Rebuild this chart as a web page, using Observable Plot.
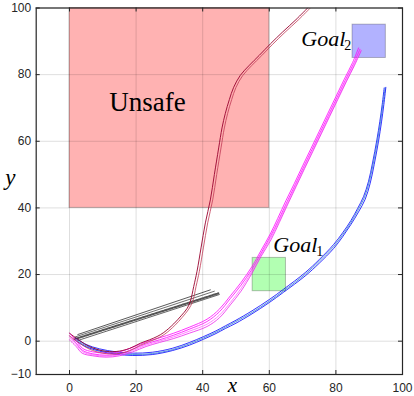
<!DOCTYPE html>
<html><head><meta charset="utf-8">
<script src="https://cdn.jsdelivr.net/npm/d3@7"></script>
<script src="https://cdn.jsdelivr.net/npm/@observablehq/plot@0.6"></script>
<style>body{margin:0;background:#fff}svg{display:block}</style>
</head><body><div id="chart"></div>
<script>
const xTicks = [0,20,40,60,80,100];
const yTicks = [-10,0,20,40,60,80,100];

const regionNames = ["Unsafe","Goal1","Goal2"];
const regionX1 = [0,55,85];
const regionX2 = [60,65,95];
const regionY1 = [40,15,85];
const regionY2 = [100,25,95];

const red1 = [[0,2.4],[3,0.2],[6,-1.6],[10,-2.9],[14,-3.1],[18,-2.2],[21.3,-0.6],[24,0.4],[26.3,1.4],[28.3,2.6],[31.3,5.2],[33.5,7.6],[35.3,9.8],[36.3,12],[37.3,16.4],[38.3,21],[39.5,28],[40.8,35.5],[42.3,42.4],[43.5,50],[44.8,58],[45.8,64],[46.8,68.4],[48,72.5],[49.3,76.2],[51.3,79.8],[54,82.8],[57,85.8],[60.3,89.2],[64,92.8],[68,96.5],[71.5,100]];
const red2 = [[0,1.6],[3,-0.6],[6,-2.4],[10,-3.6],[14,-3.8],[18,-2.9],[21.3,-1.2],[24,-0.1],[26.5,0.9],[28.6,2.1],[31.6,4.7],[33.8,7.1],[35.8,9.6],[37,12],[38,16.4],[39,21],[40.2,28],[41.5,35.5],[43,42.4],[44.2,50],[45.5,58],[46.5,64],[47.5,68.4],[48.7,72.5],[50,76.2],[52,79.7],[54.7,82.7],[57.7,85.7],[61,89.1],[64.7,92.7],[68.7,96.4],[72.2,99.9]];

const mag1 = [[0,2.4],[2,0.2],[4,-2.2],[7,-3.2],[11,-3.6],[15,-3.2],[19,-1.8],[23,-0.2],[27,1],[31.3,2.4],[36,4.2],[41.3,6.6],[45,9.6],[48.3,13.6],[51.5,17.6],[54.8,22.4],[57.5,27.2],[60.3,32.2],[62.5,36.8],[65,42.2],[67.5,47.3],[70,52.6],[72.5,57.8],[75,63],[77.5,68.2],[80,73.4],[82.5,78.6],[85,83.6],[86.8,88]];
const mag2 = [[0,1.6],[2,-0.6],[4,-2.8],[7,-3.8],[11,-4.2],[15,-3.8],[19,-2.4],[23,-0.8],[27,0.4],[31.3,1.8],[36,3.6],[41.3,5.9],[45,8.8],[48.3,12.8],[51.5,16.8],[54.8,21.6],[57.5,26.4],[60.3,31.4],[62.8,36.4],[65.3,41.8],[67.8,47],[70.3,52.3],[72.8,57.5],[75.3,62.7],[77.8,67.9],[80.3,73.1],[82.8,78.3],[85.3,83.3],[87.2,87.6]];
const mag3 = [[0,0.4],[2,-1.6],[3.8,-3.6],[7,-4.4],[11,-4.8],[15,-4.4],[19,-3.2],[23,-1.6],[27,-0.4],[31.3,0.8],[36,2.4],[41.3,4.4],[45,7],[48.3,10.9],[51.5,15],[54.8,20.4],[57.5,25.4],[60.5,30.4],[63,35.6],[65.6,41.2],[68.1,46.5],[70.6,51.8],[73.1,57],[75.6,62.2],[78.1,67.4],[80.6,72.6],[83.1,77.8],[85.6,82.8],[87.6,87.2]];
const mag4 = [[0,1],[2,-1],[4,-3.2],[7,-4.1],[11,-4.5],[15,-4.1],[19,-2.8],[23,-1.2],[27,0],[31.3,1.3],[36,3],[41.3,5.1],[45,7.8],[48.3,11.6],[51.5,15.8],[54.8,21],[57.5,25.9],[60.4,30.9],[62.9,36],[65.5,41.5],[68,46.8],[70.5,52],[73,57.2],[75.5,62.4],[78,67.6],[80.5,72.8],[83,78],[85.5,83],[87.4,87.4]];

const blue1 = [[1.8,1],[5,-1],[9,-2.3],[14,-3.2],[19,-3.6],[25,-3.3],[31,-2.1],[36,-0.4],[40.3,1.4],[44,3.1],[46.8,4.6],[50,6.3],[54.8,9.1],[60,12.5],[64.3,15.6],[70.8,20.6],[75,24.5],[79.3,29],[82,32.5],[84.5,36.2],[86.5,39.8],[88.3,43.4],[89.8,48],[91,53.5],[92.3,60.4],[93.2,66],[93.9,71],[94.5,76]];
const blue2 = [[1.8,0.2],[5,-1.7],[9,-3],[14,-3.9],[19,-4.3],[25,-4],[31,-2.8],[36,-1.2],[40.3,0.6],[44,2.3],[46.8,3.8],[50,5.4],[54.8,8.2],[60,11.6],[64.3,14.7],[70.8,19.6],[75,23.4],[79.3,27.8],[82,31.3],[84.5,35],[86.8,38.8],[88.8,42.6],[90.3,47.4],[91.5,53],[92.8,60],[93.7,65.8],[94.4,71],[95,76.2]];
const blue3 = [[1.8,0.6],[5,-1.4],[9,-2.7],[14,-3.6],[19,-4],[25,-3.7],[31,-2.5],[36,-0.8],[40.3,1],[44,2.7],[46.8,4.2],[50,5.9],[54.8,8.6],[60,12],[64.3,15.1],[70.8,20.1],[75,24],[79.3,28.4],[82,31.9],[84.5,35.6],[86.6,39.3],[88.5,43],[90,47.7],[91.2,53.2],[92.5,60.2],[93.4,65.9],[94.1,71],[94.8,76.1]];

const black1 = [[2.5,2],[42.3,15.4]];
const black2 = [[1.5,1.2],[43.5,15]];
const black3 = [[1.5,0.6],[44.8,14.4]];
const black4 = [[2.5,0.2],[45,14]];

const toRows = (pts) => pts.map(([x,y]) => ({x,y}));
const regions = regionNames.map((n,i)=>({name:n,x1:regionX1[i],x2:regionX2[i],y1:regionY1[i],y2:regionY2[i]}));
const regionFill = {Unsafe:"#ff0000", Goal1:"#00ff00", Goal2:"#0000ff"};

const serif = "'Liberation Serif', 'DejaVu Serif', serif";
const tickLen = 1.2;

const lineMark = (pts, stroke, w, extra={}) => Plot.line(toRows(pts), {x:"x", y:"y", stroke, strokeWidth:w, curve:"catmull-rom", clip:true, ...extra});

const chart = Plot.plot({
  width: 414, height: 396,
  marginLeft: 35.7, marginRight: 12, marginTop: 7.5, marginBottom: 22,
  style: {fontFamily: "'Liberation Sans', Arial, sans-serif", fontSize: "12px", color:"#262626", background:"#fff"},
  x: {domain: [-10, 100]},
  y: {domain: [-10, 100]},
  marks: [
    Plot.rect(regions, {x1:"x1", x2:"x2", y1:"y1", y2:"y2", fill: d=>regionFill[d.name], fillOpacity:0.3, stroke:"#000", strokeOpacity:0.25, strokeWidth:1}),
    Plot.gridX(xTicks, {stroke:"#000", strokeOpacity:0.13, strokeWidth:1}),
    Plot.gridY(yTicks, {stroke:"#000", strokeOpacity:0.13, strokeWidth:1}),
    lineMark(black1, "#111", 0.7),
    lineMark(black2, "#333", 0.7),
    lineMark(black3, "#555", 2, {strokeDasharray:"1,1"}),
    lineMark(black4, "#222", 0.7),
    lineMark(blue1, "#0000ff", 0.8),
    lineMark(blue3, "#2f7fd0", 0.8),
    lineMark(blue2, "#0000ff", 0.8),
    lineMark(mag1, "#ff00ff", 0.8),
    lineMark(mag4, "#ff66ff", 0.8),
    lineMark(mag2, "#ff00ff", 0.8),
    lineMark(mag3, "#ee22ee", 0.8),
    lineMark(red1, "#99002e", 0.9),
    lineMark(red2, "#c23a55", 0.8),
    Plot.ruleX(xTicks, {x: d=>d, y1: -10, y2: -10+tickLen, stroke:"#262626"}),
    Plot.ruleX(xTicks, {x: d=>d, y1: 100, y2: 100-tickLen, stroke:"#262626"}),
    Plot.ruleY(yTicks, {y: d=>d, x1: -10, x2: -10+tickLen, stroke:"#262626"}),
    Plot.ruleY(yTicks, {y: d=>d, x1: 100, x2: 100-tickLen, stroke:"#262626"}),
    Plot.axisX(xTicks, {tickSize:0, tickPadding:9, label:null, fill:"#262626", fontSize:12}),
    Plot.axisY(yTicks, {tickSize:0, tickPadding:5, label:null, fill:"#262626", fontSize:12}),
    Plot.frame({stroke:"#262626", strokeWidth:1.2}),
    Plot.text(["Unsafe"], {x:23.4, y:69.1, text:d=>d, textAnchor:"middle", lineAnchor:"bottom", fontFamily:serif, fontSize:27, fill:"#000"}),
    Plot.text(["Goal"], {x:69.6, y:88.7, text:d=>d, textAnchor:"start", lineAnchor:"bottom", fontFamily:serif, fontStyle:"italic", fontSize:22, fill:"#000"}),
    Plot.text(["2"], {x:69.6, y:88.7, dx:43, dy:4, text:d=>d, textAnchor:"start", lineAnchor:"bottom", fontFamily:serif, fontSize:14, fill:"#000"}),
    Plot.text(["Goal"], {x:61.2, y:26.9, text:d=>d, textAnchor:"start", lineAnchor:"bottom", fontFamily:serif, fontStyle:"italic", fontSize:22, fill:"#000"}),
    Plot.text(["1"], {x:61.2, y:26.9, dx:43, dy:4, text:d=>d, textAnchor:"start", lineAnchor:"bottom", fontFamily:serif, fontSize:14, fill:"#000"}),
    Plot.text(["x"], {frameAnchor:"bottom", dx:13, dy:17, text:d=>d, lineAnchor:"bottom", fontFamily:serif, fontStyle:"italic", fontSize:21, fill:"#000"}),
    Plot.text(["y"], {frameAnchor:"left", dx:-31, dy:-6, text:d=>d, textAnchor:"start", lineAnchor:"bottom", fontFamily:serif, fontStyle:"italic", fontSize:23, fill:"#000"})
  ]
});
document.getElementById("chart").appendChild(chart);
</script>
</body></html>
